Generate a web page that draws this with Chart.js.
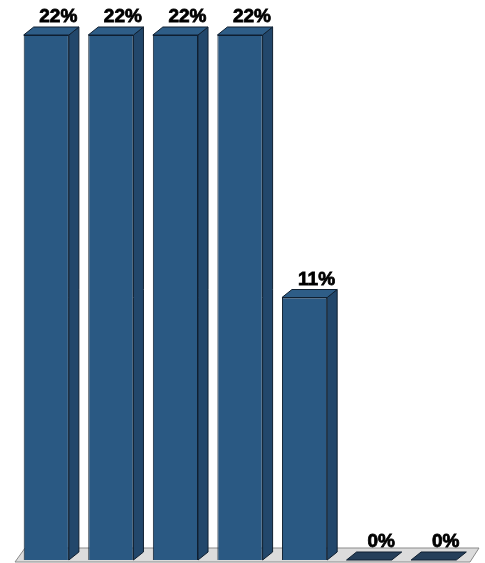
<!DOCTYPE html>
<html>
<head>
<meta charset="utf-8">
<script src="https://cdn.jsdelivr.net/npm/chart.js@4/dist/chart.umd.min.js"></script>
<style>
  html, body { margin: 0; padding: 0; background: #ffffff; }
  #wrap { width: 485px; height: 563px; }
</style>
</head>
<body>
<div id="wrap"><canvas id="chart"></canvas></div>
<script>
// Données du graphique
const categories = ["A", "B", "C", "D", "E", "F", "G"];
const values = [22, 22, 22, 22, 11, 0, 0];
const valueLabels = ["22%", "22%", "22%", "22%", "11%", "0%", "0%"];

// Profondeur de l'effet 3D
const DX = 10;
const DY = 8;

// Sol gris sous les barres
const floorPlugin = {
    id: "floor",
    beforeDatasetsDraw(chart) {
        const ctx = chart.ctx;
        const x = chart.scales.x;
        const base = chart.scales.y.getPixelForValue(0);
        ctx.save();
        ctx.beginPath();
        ctx.moveTo(x.left + 1, base + 2);
        ctx.lineTo(x.right + 4, base + 2);
        ctx.lineTo(x.right + 13, base - 12);
        ctx.lineTo(x.left + 11, base - 12);
        ctx.closePath();
        ctx.fillStyle = "#dcdcdc";
        ctx.fill();
        ctx.strokeStyle = "#8a8a8a";
        ctx.lineWidth = 1;
        ctx.stroke();
        ctx.restore();
    }
};

// Faces latérales et supérieures + étiquettes
const depthPlugin = {
    id: "depth",
    afterDatasetsDraw(chart) {
        const ctx = chart.ctx;
        const meta = chart.getDatasetMeta(0);
        ctx.save();
        ctx.lineWidth = 1;
        ctx.strokeStyle = "#0f1f30";
        meta.data.forEach((bar, i) => {
            const left = bar.x - bar.width / 2;
            const right = bar.x + bar.width / 2;
            const top = bar.y;
            const bottom = bar.base;

            // face latérale
            if (bottom - top > 0) {
                ctx.beginPath();
                ctx.moveTo(right, top);
                ctx.lineTo(right + DX, top - DY);
                ctx.lineTo(right + DX, bottom - DY);
                ctx.lineTo(right, bottom);
                ctx.closePath();
                ctx.fillStyle = "#22476b";
                ctx.fill();
                ctx.stroke();
            }

            // face supérieure
            ctx.beginPath();
            ctx.moveTo(left, top);
            ctx.lineTo(left + DX, top - DY);
            ctx.lineTo(right + DX, top - DY);
            ctx.lineTo(right, top);
            ctx.closePath();
            ctx.fillStyle = bottom - top > 0 ? "#2e5d87" : "#253f5a";
            ctx.fill();
            ctx.stroke();

            // étiquette
            ctx.fillStyle = "#000000";
            ctx.font = "bold 19px 'Liberation Sans', Arial, sans-serif";
            ctx.textAlign = "center";
            ctx.textBaseline = "alphabetic";
            ctx.lineWidth = 0.8;
            ctx.strokeStyle = "#000000";
            ctx.fillText(valueLabels[i], bar.x + DX + 2, top - DY - 5);
            ctx.strokeText(valueLabels[i], bar.x + DX + 2, top - DY - 5);
            ctx.lineWidth = 1;
            ctx.strokeStyle = "#0f1f30";
        });
        ctx.restore();
    }
};

new Chart(document.getElementById("chart"), {
    type: "bar",
    data: {
        labels: categories,
        datasets: [
            {
                data: values,
                backgroundColor: "#2a5983",
                borderColor: "#0f1f30",
                borderWidth: 1,
                barPercentage: 0.7,
                categoryPercentage: 1,
            },
        ],
    },
    options: {
        responsive: true,
        maintainAspectRatio: false,
        animation: false,
        layout: {
            padding: { top: 35, bottom: 3, left: 14, right: 19 },
        },
        plugins: {
            legend: { display: false },
            tooltip: { enabled: false },
        },
        scales: {
            x: { display: false },
            y: { display: false, min: 0, max: 22 },
        },
    },
    plugins: [floorPlugin, depthPlugin],
});
</script>
</body>
</html>
